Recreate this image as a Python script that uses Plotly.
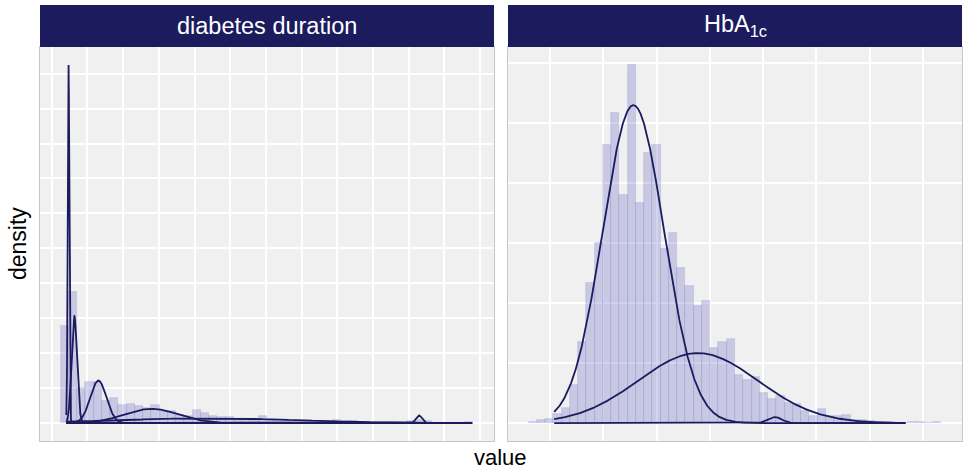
import numpy as np
import plotly.graph_objects as go

# ---------------- data ----------------
panel_titles = ["diabetes duration", "HbA<sub>1c</sub>"]
x_title = "value"
y_title = "density"

# diabetes duration (years): 50-bin histogram (density) + mixture components
dur_bin_start = 1.246
dur_bin_width = 1.156
dur_density = [0.1394, 0.1880, 0.0509, 0.0586, 0.0586, 0.0319, 0.0366, 0.0261, 0.0276, 0.0247,
               0.0214, 0.0261, 0.0180, 0.0171, 0.0119, 0.0104, 0.0190, 0.0147, 0.0104, 0.0083,
               0.0083, 0.0047, 0.0037, 0.0047, 0.0104, 0.0047, 0.0037, 0.0029, 0.0021, 0.0021,
               0.0021, 0.0017, 0.0021, 0.0047, 0.0029, 0.0029, 0.0014, 0.0007, 0.0007, 0.0004,
               0.0004, 0.0007, 0.0033, 0.0043, 0.0029, 0.0007, 0.0004, 0.0004, 0.0004, 0.0014]
dur_means = [2.353, 3.165, 6.53, 14.0, 22.17, 51.44]
dur_sds = [0.112, 0.378, 1.13, 3.77, 12.6, 0.42]
dur_weights = [0.144, 0.145, 0.1725, 0.1928, 0.2167, 0.0115]
dur_curve_range = [2.045, 58.87]

# HbA1c (%): 50-bin histogram (density) + mixture components
hba_bin_start = 3.19
hba_bin_width = 0.31
hba_density = [0.0013, 0.0022, 0.0033, 0.0075, 0.0125, 0.0319, 0.0680, 0.1172, 0.1500, 0.2319,
               0.2588, 0.1903, 0.2986, 0.1838, 0.2250, 0.2319, 0.1453, 0.1588, 0.1294, 0.1144,
               0.0980, 0.1019, 0.0630, 0.0672, 0.0703, 0.0403, 0.0363, 0.0386, 0.0253, 0.0197,
               0.0228, 0.0169, 0.0161, 0.0103, 0.0061, 0.0119, 0.0055, 0.0063, 0.0069, 0.0028,
               0.0028, 0.0019, 0.0008, 0.0005, 0.0003, 0.0003, 0.0005, 0.0005, 0.0003, 0.0005]
hba_means = [7.125, 9.55, 12.44]
hba_sds = [1.15, 2.25, 0.26]
hba_weights = [0.764, 0.329, 0.0033]
hba_curve_range = [4.15, 17.34]

# ---------------- styling ----------------
NAVY = "#1B1B5E"
BAR_FILL = "rgba(110,110,200,0.30)"
BAR_LINE = "rgba(110,110,215,0.22)"
PANEL_BG = "#F0F0F0"
BORDER = "#C6C6C6"
FONT = "Liberation Sans, Arial, Helvetica, sans-serif"

W, H = 963, 471
panel_top, panel_bottom = 47, 441
strip_top = 5
x_domains = [[40 / W, 494 / W], [508 / W, 962 / W]]
y_domain = [(H - panel_bottom) / H, (H - panel_top) / H]
strip_frac = (panel_top - strip_top) / (panel_bottom - panel_top)


def normal_pdf(x, m, s):
    return np.exp(-0.5 * ((x - m) / s) ** 2) / (s * np.sqrt(2 * np.pi))


fig = go.Figure()

panels = [
    (dur_bin_start, dur_bin_width, dur_density, dur_means, dur_sds, dur_weights, dur_curve_range, 5.0),
    (hba_bin_start, hba_bin_width, hba_density, hba_means, hba_sds, hba_weights, hba_curve_range, 2.0),
]

for i, (b0, bw, dens, means, sds, wts, crange, xdt) in enumerate(panels):
    xa = "x" if i == 0 else "x2"
    ya = "y" if i == 0 else "y2"
    n = len(dens)
    centers = b0 + bw * (np.arange(n) + 0.5)
    fig.add_trace(go.Bar(x=centers, y=dens, width=bw, xaxis=xa, yaxis=ya,
                         marker=dict(color=BAR_FILL, line=dict(color=BAR_LINE, width=0.8)),
                         showlegend=False, hoverinfo="skip"))
    xs = np.linspace(crange[0], crange[1], 4000)
    ymax = max(dens)
    for m, s, w in zip(means, sds, wts):
        ys = w * normal_pdf(xs, m, s)
        ymax = max(ymax, ys.max())
        fig.add_trace(go.Scatter(x=xs, y=ys, mode="lines", xaxis=xa, yaxis=ya,
                                 line=dict(color=NAVY, width=1.8),
                                 showlegend=False, hoverinfo="skip"))
    lo, hi = b0, b0 + bw * n
    pad = 0.05 * (hi - lo)
    axis_common = dict(showticklabels=False, ticks="", showgrid=True, gridcolor="white",
                       gridwidth=1.5, zeroline=False, showline=True, linecolor=BORDER,
                       linewidth=1, mirror=True)
    fig.layout[("xaxis" if i == 0 else "xaxis2")] = dict(
        domain=x_domains[i], anchor=ya, range=[lo - pad, hi + pad],
        tick0=0, dtick=xdt, **axis_common)
    fig.layout[("yaxis" if i == 0 else "yaxis2")] = dict(
        domain=y_domain, anchor=xa, range=[-0.05 * ymax, 1.05 * ymax],
        tick0=0, dtick=0.05, **axis_common)

    # facet strip
    fig.add_shape(type="rect", xref=f"{xa} domain", yref=f"{ya} domain",
                  x0=0, x1=1, y0=1, y1=1 + strip_frac,
                  fillcolor=NAVY, line=dict(width=0), layer="above")
    fig.add_annotation(text=panel_titles[i], xref=f"{xa} domain", yref=f"{ya} domain",
                       x=0.5, y=1 + strip_frac / 2, showarrow=False,
                       xanchor="center", yanchor="middle",
                       font=dict(family=FONT, size=23.5, color="white"))

fig.add_annotation(text=x_title, xref="paper", yref="paper",
                   x=(40 + 962) / 2 / W, y=(H - 457) / H, showarrow=False,
                   xanchor="center", yanchor="middle",
                   font=dict(family=FONT, size=22, color="black"))
fig.add_annotation(text=y_title, xref="paper", yref="paper",
                   x=18 / W, y=(H - 244) / H, showarrow=False, textangle=-90,
                   xanchor="center", yanchor="middle",
                   font=dict(family=FONT, size=23, color="black"))

fig.update_layout(width=W, height=H, margin=dict(l=0, r=0, t=0, b=0),
                  paper_bgcolor="white", plot_bgcolor=PANEL_BG,
                  bargap=0, barmode="overlay", font=dict(family=FONT))

fig.write_html("out.html")
